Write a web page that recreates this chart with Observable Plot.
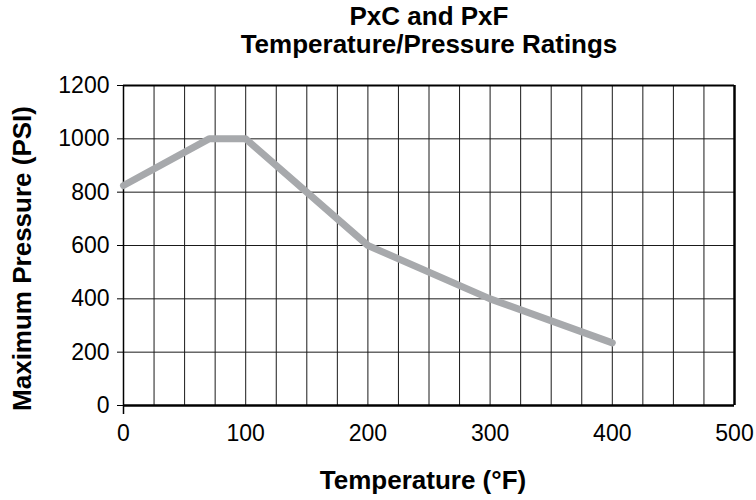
<!DOCTYPE html>
<html>
<head>
<meta charset="utf-8">
<script src="https://cdn.jsdelivr.net/npm/d3@7"></script>
<script src="https://cdn.jsdelivr.net/npm/@observablehq/plot@0.6"></script>
<style>
  html, body { margin: 0; padding: 0; background: #fff; }
  #chart svg { display: block; }
</style>
</head>
<body>
<div id="chart"></div>
<script>
const titleLines = ["PxC and PxF", "Temperature/Pressure Ratings"];
const xLabel = "Temperature (°F)";
const yLabel = "Maximum Pressure (PSI)";
const temperature = [0, 70, 100, 200, 300, 400];
const pressure = [825, 1000, 1000, 600, 400, 235];
const xTicks = [0, 100, 200, 300, 400, 500];
const yTicks = [0, 200, 400, 600, 800, 1000, 1200];
const xGrid = d3.range(0, 501, 25);

const data = temperature.map((t, i) => ({t, p: pressure[i]}));

const chart = Plot.plot({
  width: 756,
  height: 500,
  marginLeft: 123,
  marginRight: 22,
  marginTop: 85,
  marginBottom: 95,
  x: {domain: [0, 500]},
  y: {domain: [0, 1200]},
  style: {fontFamily: "'Liberation Sans', Arial, Helvetica, sans-serif", background: "#fff", color: "#000"},
  marks: [
    Plot.ruleX(xGrid, {stroke: "#1a1a1a", strokeWidth: 1}),
    Plot.ruleY(yTicks, {stroke: "#1a1a1a", strokeWidth: 1}),
    Plot.ruleY([1200], {stroke: "#000", strokeWidth: 2}),
    Plot.ruleY([0], {stroke: "#000", strokeWidth: 2.5}),
    Plot.ruleX([500], {stroke: "#000", strokeWidth: 2.5}),
    Plot.ruleX([0], {stroke: "#000", strokeWidth: 1.5, insetBottom: -9}),
    Plot.axisY({ticks: yTicks, tickFormat: d => String(d), tickSize: 6, tickPadding: 8, fontSize: 23, label: null, stroke: "#000"}),
    Plot.axisX({ticks: xTicks, tickFormat: d => String(d), tickSize: 0, tickPadding: 19, fontSize: 23, label: null}),
    Plot.line(data, {x: "t", y: "p", stroke: "#a7a9ac", strokeWidth: 7, strokeLinecap: "round", strokeLinejoin: "round"}),
    Plot.text([titleLines[0]], {frameAnchor: "top", dy: -69, lineAnchor: "middle", fontSize: 26, fontWeight: "bold"}),
    Plot.text([titleLines[1]], {frameAnchor: "top", dy: -41, lineAnchor: "middle", fontSize: 26, fontWeight: "bold"}),
    Plot.text([xLabel], {frameAnchor: "bottom", dy: 75, dx: -6, lineAnchor: "middle", fontSize: 26, fontWeight: "bold"}),
    Plot.text([yLabel], {frameAnchor: "left", textAnchor: "middle", rotate: -90, dx: -101, dy: 13, lineAnchor: "middle", fontSize: 26, fontWeight: "bold"})
  ]
});
document.getElementById("chart").appendChild(chart);
</script>
</body>
</html>
